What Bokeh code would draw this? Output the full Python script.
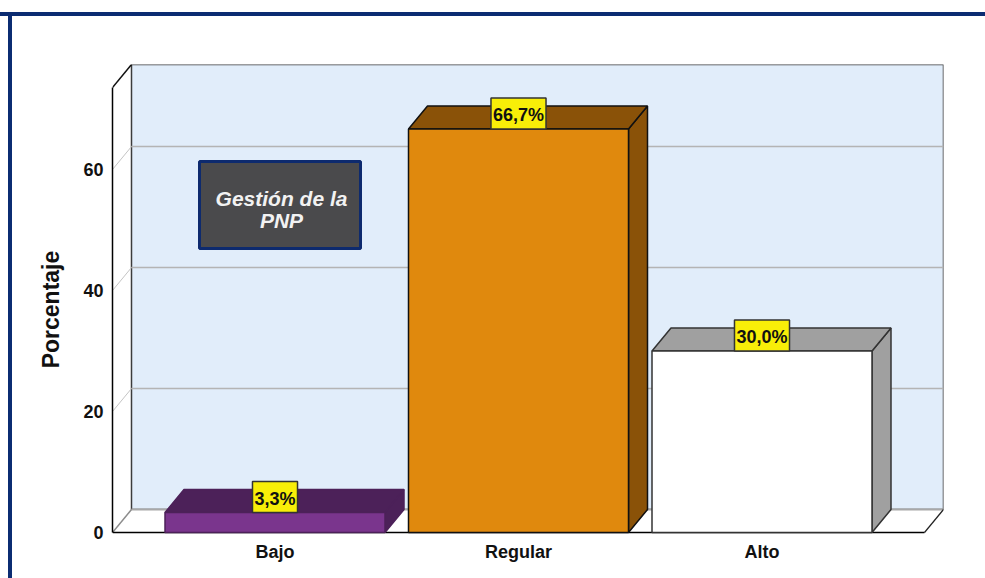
from bokeh.plotting import figure
from bokeh.embed import file_html
from bokeh.resources import INLINE
from bokeh.models import FixedTicker, ColumnDataSource, Range1d
from bokeh.core.properties import value

categorias = ["Bajo", "Regular", "Alto"]
porcentajes = [3.3, 66.7, 30.0]
etiquetas = ["3,3%", "66,7%", "30,0%"]
color_frente = ["#7a358d", "#e0890d", "#ffffff"]
color_lado = ["#4c2159", "#8a5208", "#a0a0a0"]
color_borde = ["#4c2159", "#111111", "#333333"]
ticks_y = [0, 20, 40, 60]
nota = ["Gestión de la", "PNP"]

W, H = 985, 578
L, R, T = 112, 42, 64              # margins around the plot frame
Z0 = 532                           # pixel row of the value 0
B = 24                             # frame reaches below the 0 line so the axis title centres on the axis
PX_X = 243.5                       # pixels per category
PX_Y = 6.05                        # pixels per percent
frame_w = W - L - R
x0 = -162.5 / PX_X
x1 = x0 + frame_w / PX_X
y0 = -(H - B - Z0) / PX_Y
y1 = (Z0 - T) / PX_Y
dx, dy = 19 / PX_X, 23 / PX_Y      # depth of the 3D box
ymax = (y1 - dy)
half = 110 / PX_X
x_front_r = x1 - dx
navy = "#0b2c72"

p = figure(width=W, height=H, output_backend="svg", toolbar_location=None,
           x_range=Range1d(x0, x1), y_range=Range1d(y0, y1),
           min_border_left=L, min_border_right=R, min_border_top=T, min_border_bottom=B,
           outline_line_color=None, background_fill_alpha=0, border_fill_alpha=0)
p.styles = {
    "background-color": "#ffffff",
    "background-image": f"linear-gradient({navy},{navy}),linear-gradient({navy},{navy})",
    "background-size": "100% 4px, 4px 100%",
    "background-position": "0 12px, 8px 12px",
    "background-repeat": "no-repeat",
}
p.grid.visible = False

# Box: back wall, floor, side wall
p.quad(left=[x0 + dx], right=[x1], bottom=[dy], top=[y1], fill_color="#e1edfa",
       line_color="#3c3c3c", line_width=1.5)
p.patch([x0, x0 + dx, x1, x_front_r], [0, dy, dy, 0], fill_color="#ffffff", line_color=None)
p.segment([x0 + dx], [dy], [x1], [dy], line_color="#a8a8a8", line_width=2)
p.segment([x0], [0], [x0 + dx], [dy], line_color="#8c8c8c", line_width=1.5)
p.segment([x_front_r], [0], [x1], [dy], line_color="#222222", line_width=1.2)
p.segment([x0], [ymax], [x0 + dx], [y1], line_color="#111111", line_width=1.5)
p.segment([x0], [0], [x_front_r], [0], line_color="#000000", line_width=1.5)

grid = [t for t in ticks_y if t > 0]
p.segment([x0 + dx] * 3, [t + dy for t in grid], [x1] * 3, [t + dy for t in grid],
          line_color="#b4b4b4", line_width=1.3)
p.segment([x0] * 3, grid, [x0 + dx] * 3, [t + dy for t in grid],
          line_color="#c4c4c4", line_width=1)

# 3D bars
for i, v in enumerate(porcentajes):
    l, r = i - half, i + half
    p.patch([r, r + dx, r + dx, r], [0, dy, v + dy, v], fill_color=color_lado[i],
            line_color=color_borde[i], line_width=1.5)
    p.patch([l, l + dx, r + dx, r], [v, v + dy, v + dy, v], fill_color=color_lado[i],
            line_color=color_borde[i], line_width=1.5)
    p.quad(left=[l], right=[r], bottom=[0], top=[v], fill_color=color_frente[i],
           line_color=color_borde[i], line_width=1.5)

# Value labels (padding order here: left, right, top, bottom)
src = ColumnDataSource(dict(x=list(range(3)), y=porcentajes, t=etiquetas))
p.text("x", "y", text="t", source=src, text_align="center", text_baseline="bottom",
       text_font=value("Liberation Sans"), text_font_style="bold", text_font_size="18px",
       text_color="#111111", y_offset=0, background_fill_color="#f8ee08",
       border_line_color="#333333", border_line_width=1.5, padding=(2, 2, 7, 4))

# Note box
to_x = lambda px: x0 + (px - L) / PX_X
to_y = lambda py: (Z0 - py) / PX_Y
p.quad(left=[to_x(199)], right=[to_x(360)], top=[to_y(161)], bottom=[to_y(248)],
       fill_color="#4a4a4c", line_color="#0d2a6e", line_width=3)
p.text([to_x(281)] * 2, [to_y(198), to_y(220)], text=nota, text_align="center",
       text_baseline="middle", text_font=value("Liberation Sans"), text_font_style="bold italic",
       text_font_size="21px", text_color="#f2f2f2")

# Axes
p.yaxis.ticker = FixedTicker(ticks=ticks_y)
p.yaxis.bounds = (0, ymax)
p.yaxis.axis_line_color = "#000000"
p.yaxis.axis_line_width = 1.5
p.yaxis.major_tick_line_color = None
p.yaxis.major_tick_out = 0
p.yaxis.major_tick_in = 0
p.yaxis.minor_tick_line_color = None
p.yaxis.minor_tick_out = 0
p.yaxis.major_label_text_font = "Liberation Sans"
p.yaxis.major_label_text_font_style = "bold"
p.yaxis.major_label_text_font_size = "18px"
p.yaxis.major_label_text_color = "#111111"
p.yaxis.major_label_standoff = 9
p.yaxis.axis_label = "Porcentaje"
p.yaxis.axis_label_text_font = "Liberation Sans"
p.yaxis.axis_label_text_font_style = "bold"
p.yaxis.axis_label_text_font_size = "23px"
p.yaxis.axis_label_text_color = "#111111"
p.yaxis.axis_label_standoff = 16

p.xaxis.ticker = FixedTicker(ticks=[0, 1, 2])
p.xaxis.major_label_overrides = {i: c for i, c in enumerate(categorias)}
p.xaxis.axis_line_color = None
p.xaxis.major_tick_line_color = None
p.xaxis.major_tick_out = 0
p.xaxis.major_tick_in = 0
p.xaxis.minor_tick_line_color = None
p.xaxis.minor_tick_out = 0
p.xaxis.major_label_text_font = "Liberation Sans"
p.xaxis.major_label_text_font_style = "bold"
p.xaxis.major_label_text_font_size = "18px"
p.xaxis.major_label_text_color = "#111111"
p.xaxis.major_label_standoff = -13

open("out.html", "w").write(file_html(p, INLINE))
